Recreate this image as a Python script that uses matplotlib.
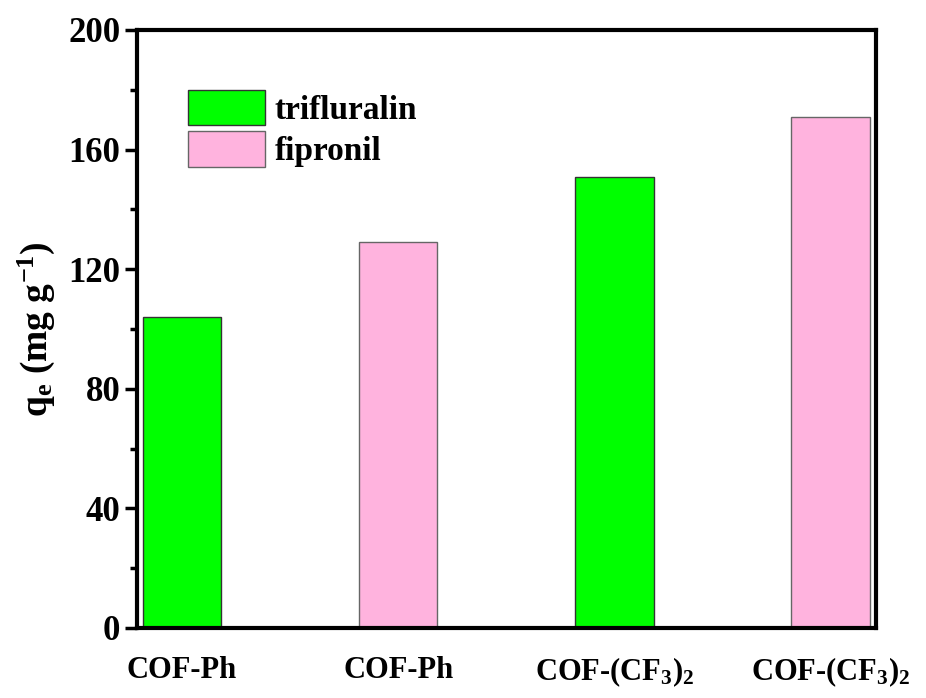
import matplotlib
matplotlib.use("Agg")
import matplotlib.pyplot as plt
from matplotlib.ticker import MultipleLocator
from matplotlib.patches import Patch

# data
labels = ["COF-Ph", "COF-Ph", r"COF-(CF$_\mathbf{3}$)$_\mathbf{2}$", r"COF-(CF$_\mathbf{3}$)$_\mathbf{2}$"]
qe = [104, 129, 151, 171]
pesticide = ["trifluralin", "fipronil", "trifluralin", "fipronil"]

COLORS = {"trifluralin": "#00ff00", "fipronil": "#ffb3de"}
EDGES = {"trifluralin": "#333333", "fipronil": "#666666"}

plt.rcParams["font.family"] = ["Liberation Serif", "DejaVu Serif"]
plt.rcParams["font.weight"] = "bold"
plt.rcParams["mathtext.fontset"] = "custom"
plt.rcParams["mathtext.rm"] = "Liberation Serif:bold"
plt.rcParams["mathtext.bf"] = "Liberation Serif:bold"
plt.rcParams["mathtext.it"] = "Liberation Serif:bold"

fig = plt.figure(figsize=(9.26, 6.98), dpi=100)
ax = fig.add_axes([137 / 926, 70 / 698, 739 / 926, 598 / 698])

x = range(len(qe))
ax.bar(x, qe, width=0.363, color=[COLORS[p] for p in pesticide],
       edgecolor=[EDGES[p] for p in pesticide], linewidth=1.0, zorder=2)

ax.set_xlim(-0.208, 3.21)
ax.set_ylim(0, 200)
ax.yaxis.set_major_locator(MultipleLocator(40))
ax.yaxis.set_minor_locator(MultipleLocator(20))
ax.tick_params(axis="y", which="major", direction="out", length=9, width=2.5,
               labelsize=25, pad=3)
ax.tick_params(axis="y", which="minor", direction="out", length=5, width=2.5)
ax.set_xticks(list(x))
ax.set_xticklabels(labels, fontsize=22, fontweight="bold")
ax.tick_params(axis="x", length=0, pad=20)
for lbl in ax.get_yticklabels():
    lbl.set_fontweight("bold")
for sp in ax.spines.values():
    sp.set_linewidth(3)

ax.set_ylabel(r"q$_\mathbf{e}$ (mg g$^\mathbf{-1}$)", fontsize=27,
              fontweight="bold", labelpad=8)

handles = [Patch(facecolor=COLORS[k], edgecolor=EDGES[k], label=k)
           for k in ["trifluralin", "fipronil"]]
ax.legend(handles=handles, loc="upper left", bbox_to_anchor=(0.069, 0.90),
          frameon=False, borderpad=0, borderaxespad=0,
          handlelength=2.3, handleheight=1.27,
          handletextpad=0.3, labelspacing=0.15,
          prop={"weight": "bold", "size": 24})

fig.savefig("out.png", dpi=100)
